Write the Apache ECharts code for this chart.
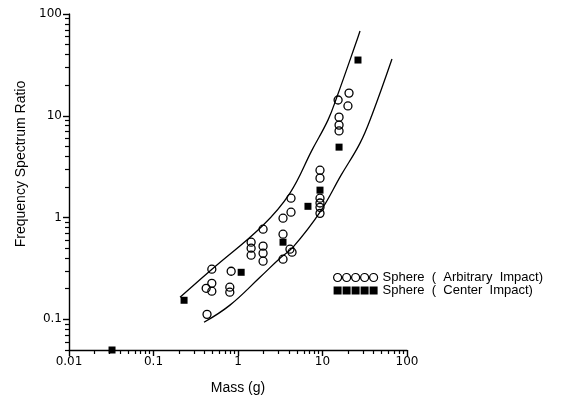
<!DOCTYPE html>
<html><head><meta charset="utf-8">
<script src="https://cdn.jsdelivr.net/npm/echarts@6/dist/echarts.min.js"></script>
<style>html,body{margin:0;padding:0;background:#fff}#c{width:564px;height:400px}</style>
</head><body><div id="c"></div>
<script>
// Sphere (Arbitrary Impact) - open circles
const arbX = [0.43, 0.49, 0.42, 0.49, 0.49, 0.83, 0.80, 0.80, 1.43, 1.43, 1.43, 1.98, 1.98, 1.98, 1.98, 3.41, 4.24, 4.24, 3.41, 3.41, 4.12, 4.36, 9.34, 9.34, 9.34, 9.34, 9.34, 9.34, 15.3, 20.6, 20.0, 15.7, 15.7, 15.7];
const arbY = [0.112, 0.311, 0.202, 0.226, 0.189, 0.297, 0.207, 0.185, 0.573, 0.500, 0.427, 0.524, 0.447, 0.373, 0.769, 0.986, 1.13, 1.55, 0.687, 0.390, 0.489, 0.457, 2.92, 2.44, 1.55, 1.39, 1.26, 1.10, 14.3, 16.7, 12.5, 9.7, 8.1, 7.1];
// Sphere (Center Impact) - filled squares
const ctrX = [0.0323, 0.230, 1.09, 3.41, 6.73, 9.34, 15.7, 26.3];
const ctrY = [0.05, 0.154, 0.290, 0.573, 1.29, 1.86, 4.92, 35.3];
// Bounding curves
const upX = [0.206, 0.492, 1.98, 4.12, 7.51, 11.6, 14.8, 25.6, 27.8];
const upY = [0.165, 0.311, 0.842, 1.74, 4.60, 9.07, 15.3, 55.5, 68];
const lowX = [0.396, 0.803, 1.82, 3.14, 4.48, 9.34, 16.6, 27.8, 38.5, 66.4];
const lowY = [0.0936, 0.138, 0.259, 0.399, 0.512, 1.13, 2.61, 5.39, 10.2, 36.1];
// Ticks
const xTickVals = [0.01, 0.1, 1, 10, 100];
const xTickLabels = ['0.01', '0.1', '1', '10', '100'];
const yTickVals = [0.1, 1, 10, 100];
const yTickLabels = ['0.1', '1', '10', '100'];
const xMinor = [0.02,0.03,0.04,0.05,0.06,0.07,0.08,0.09,0.2,0.3,0.4,0.5,0.6,0.7,0.8,0.9,2,3,4,5,6,7,8,9,20,30,40,50,60,70,80,90];
const yMinor = [0.05,0.06,0.07,0.08,0.09,0.2,0.3,0.4,0.5,0.6,0.7,0.8,0.9,2,3,4,5,6,7,8,9,20,30,40,50,60,70,80,90];

const zip = (a, b) => a.map((v, i) => [v, b[i]]);
const F = 'Liberation Sans';
const FT = 'DejaVu Sans';
const circles5 = 'path://M0,4a4,4 0 1,0 8,0a4,4 0 1,0 -8,0M9,4a4,4 0 1,0 8,0a4,4 0 1,0 -8,0M18,4a4,4 0 1,0 8,0a4,4 0 1,0 -8,0M27,4a4,4 0 1,0 8,0a4,4 0 1,0 -8,0M36,4a4,4 0 1,0 8,0a4,4 0 1,0 -8,0';
const squares5 = 'path://M0,0h8v8h-8zM9,0h8v8h-8zM18,0h8v8h-8zM27,0h8v8h-8zM36,0h8v8h-8z';

const chart = echarts.init(document.getElementById('c'), null, {renderer: 'canvas'});
const xLabelMap = {}; xTickVals.forEach((v, i) => xLabelMap[v] = xTickLabels[i]);
const yLabelMap = {}; yTickVals.forEach((v, i) => yLabelMap[v] = yTickLabels[i]);

chart.setOption({
  animation: false,
  backgroundColor: '#fff',
  grid: {left: 69, right: 157, top: 14, bottom: 50, outerBoundsMode: 'none', containLabel: false},
  legend: {
    orient: 'vertical', left: 328, top: 266, itemGap: 0, itemWidth: 44, itemHeight: 8,
    textStyle: {fontFamily: F, fontSize: 13, color: '#000', lineHeight: 13},
    data: [
      {name: 'Sphere  (  Arbitrary  Impact)', icon: circles5, itemStyle: {color: '#fff', borderColor: '#000', borderWidth: 1.2}},
      {name: 'Sphere  (  Center  Impact)', icon: squares5, itemStyle: {color: '#000'}}
    ]
  },
  xAxis: [{
    type: 'log', logBase: 10, min: 0.01, max: 100,
    name: 'Mass (g)', nameLocation: 'middle', nameGap: 31,
    nameTextStyle: {fontFamily: F, fontSize: 14, color: '#000'},
    axisLine: {lineStyle: {color: '#000', width: 1.4}},
    axisTick: {show: true, length: 6, customValues: xTickVals, lineStyle: {color: '#000', width: 1.4}},
    axisLabel: {customValues: xTickVals, formatter: v => xLabelMap[v] ?? '', fontFamily: FT, fontSize: 12, color: '#000', margin: 6},
    splitLine: {show: false}, minorTick: {show: false}
  }, {
    type: 'log', logBase: 10, min: 0.01, max: 100, position: 'bottom',
    axisLine: {show: false},
    axisTick: {show: true, length: 4, customValues: xMinor, lineStyle: {color: '#000', width: 1.2}},
    axisLabel: {show: false}, splitLine: {show: false}
  }],
  yAxis: [{
    type: 'log', logBase: 10, min: 0.05, max: 100,
    name: 'Frequency Spectrum Ratio', nameLocation: 'middle', nameGap: 41,
    nameTextStyle: {fontFamily: F, fontSize: 14, color: '#000', padding: [0, 0, 0, 36]},
    axisLine: {lineStyle: {color: '#000', width: 1.4}},
    axisTick: {show: true, length: 6, customValues: yTickVals, lineStyle: {color: '#000', width: 1.4}},
    axisLabel: {customValues: yTickVals, formatter: v => yLabelMap[v] ?? '', fontFamily: FT, fontSize: 12, color: '#000', margin: 7},
    splitLine: {show: false}, minorTick: {show: false}
  }, {
    type: 'log', logBase: 10, min: 0.05, max: 100, position: 'left',
    axisLine: {show: false},
    axisTick: {show: true, length: 4, customValues: yMinor, lineStyle: {color: '#000', width: 1.2}},
    axisLabel: {show: false}, splitLine: {show: false}
  }],
  series: [
    {type: 'line', data: zip(upX, upY), smooth: 0.4, showSymbol: false, symbol: 'none',
     lineStyle: {color: '#000', width: 1.3}, silent: true},
    {type: 'line', data: zip(lowX, lowY), smooth: 0.4, showSymbol: false, symbol: 'none',
     lineStyle: {color: '#000', width: 1.3}, silent: true},
    {name: 'Sphere  (  Arbitrary  Impact)', type: 'scatter', data: zip(arbX, arbY), symbol: 'circle', symbolSize: 8,
     itemStyle: {color: 'rgba(255,255,255,0)', borderColor: '#000', borderWidth: 1.3, opacity: 1}},
    {name: 'Sphere  (  Center  Impact)', type: 'scatter', data: zip(ctrX, ctrY), symbol: 'rect', symbolSize: 7,
     itemStyle: {color: '#000', opacity: 1}, clip: false}
  ]
});
</script></body></html>
